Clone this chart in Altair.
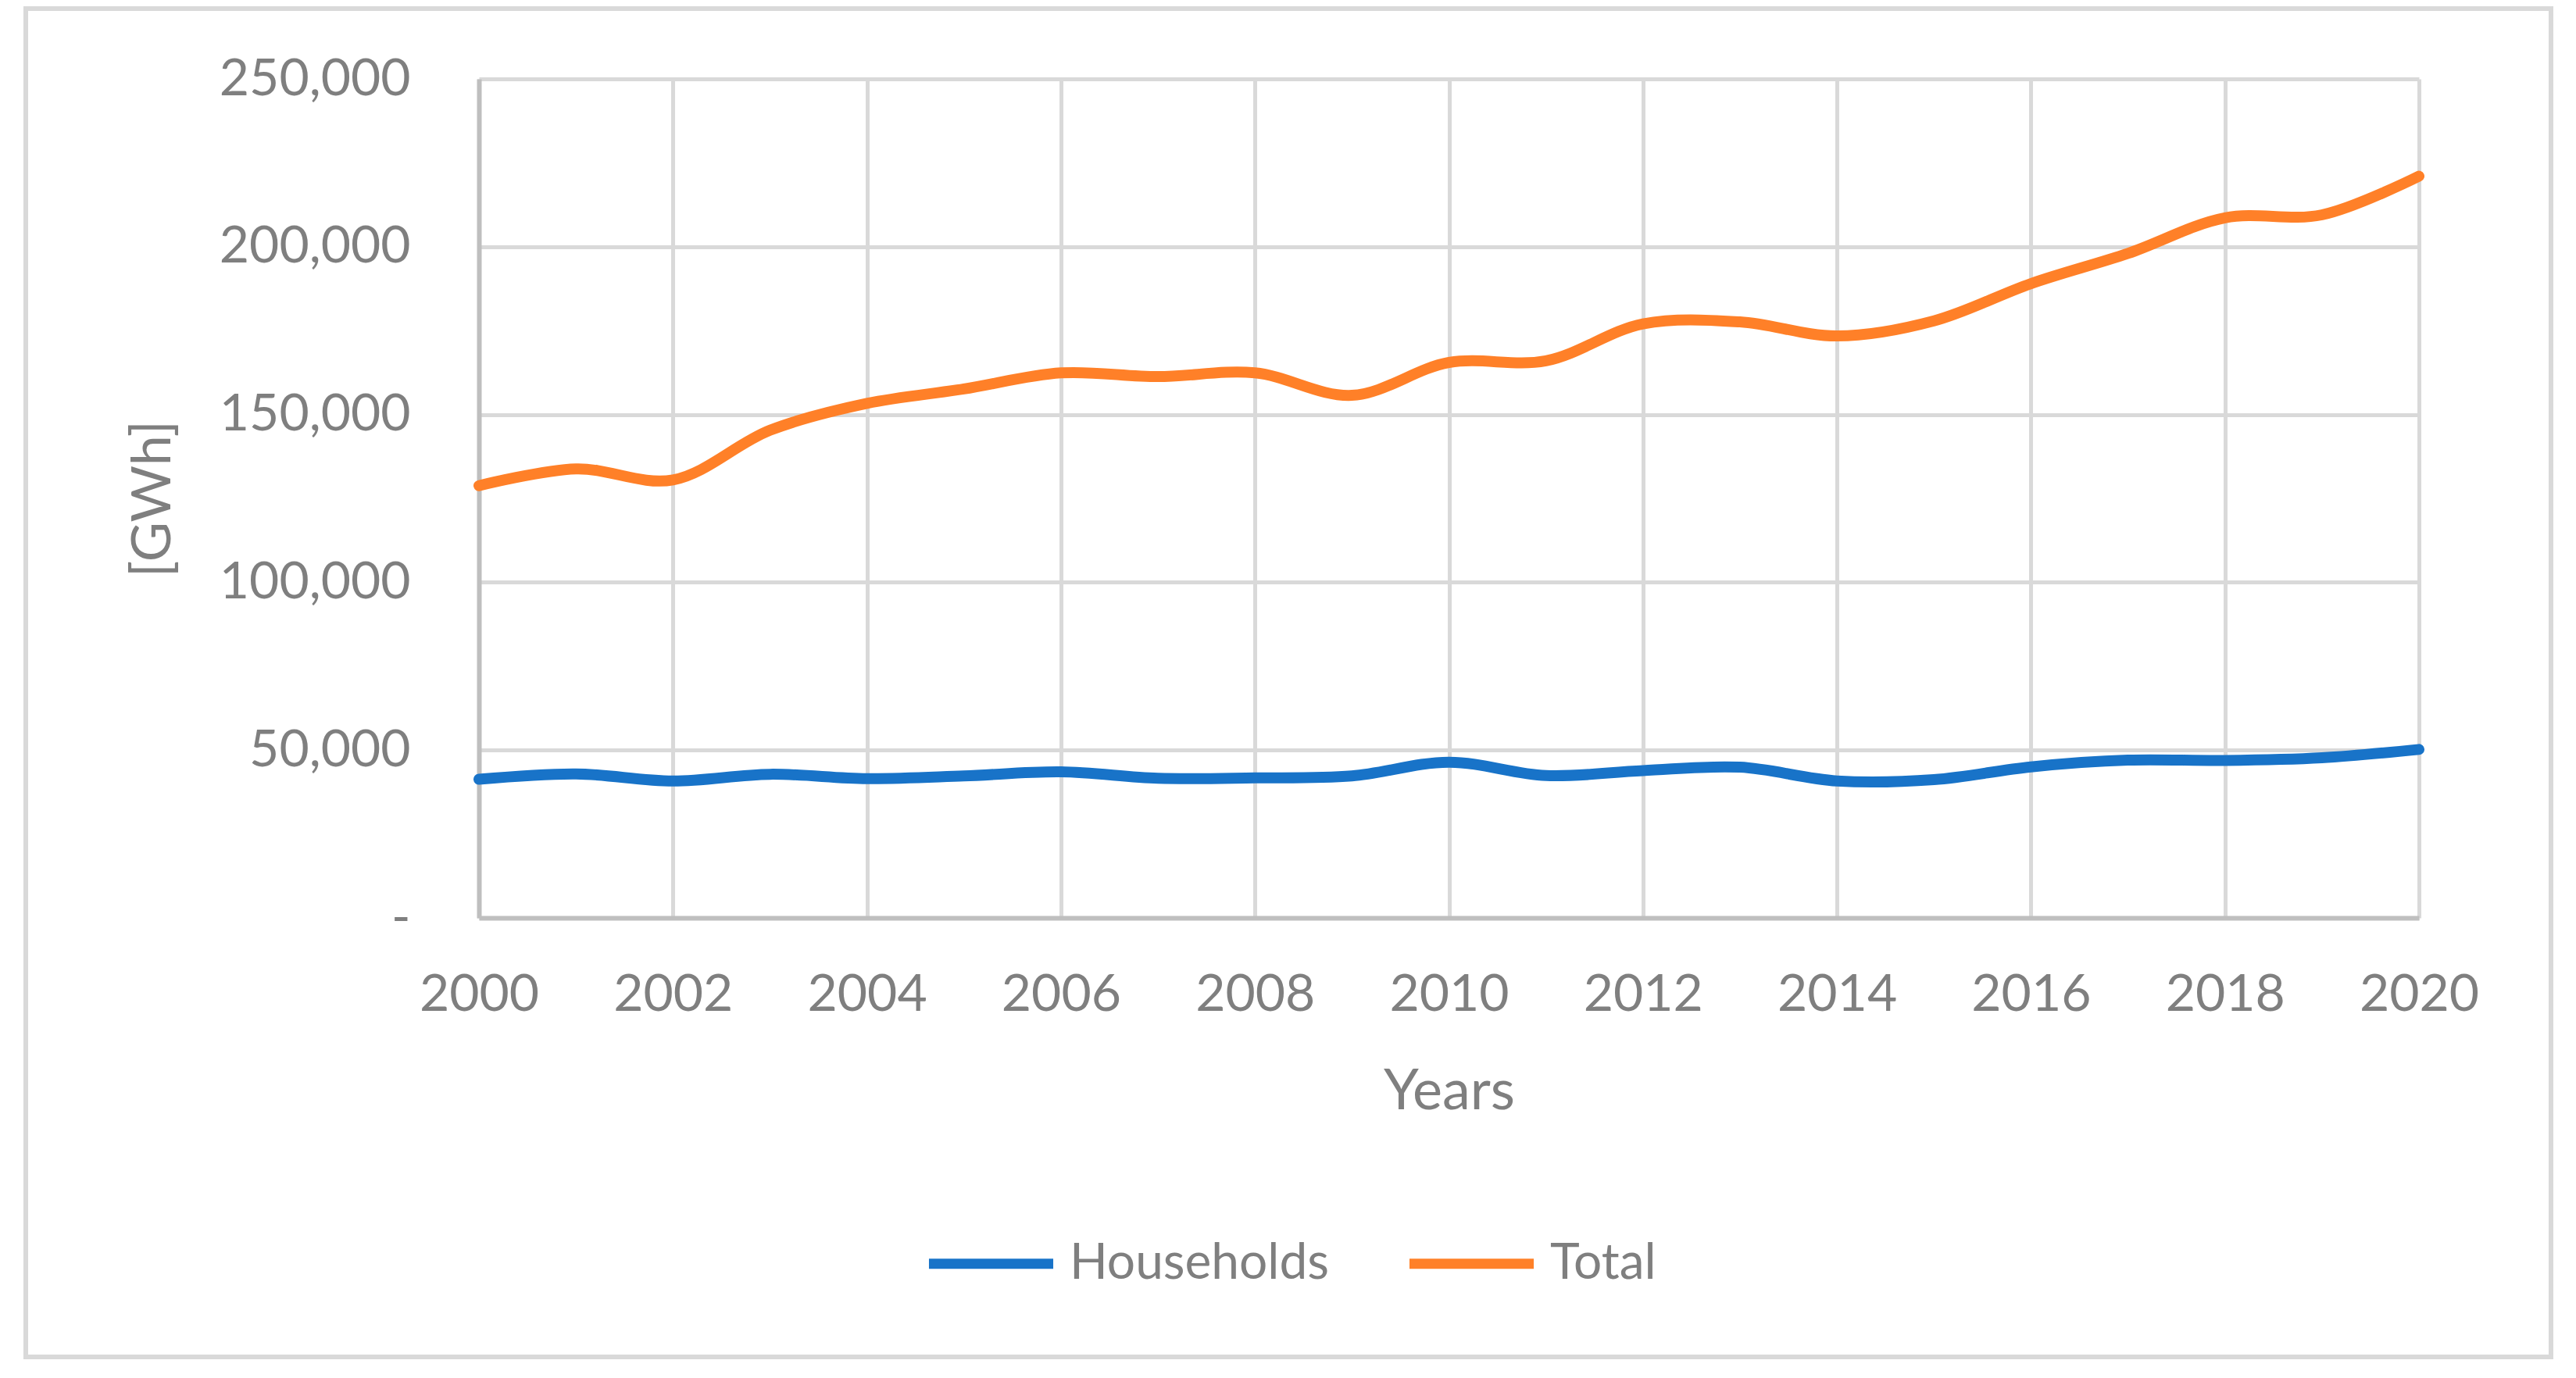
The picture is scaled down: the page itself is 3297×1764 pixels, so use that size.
import altair as alt
import pandas as pd

years = list(range(2000, 2021))
households = [41300, 42900, 40800, 42800, 41500, 42300, 43500, 41600, 41700, 42300,
              46400, 42400, 43900, 44900, 40800, 41200, 45000, 47000, 46900, 47700, 50200]
total = [128800, 133800, 130500, 145300, 153300, 157600, 162400, 161300, 162400, 155700,
         165500, 166000, 177000, 177600, 173400, 177900, 189000, 198000, 208600, 209500, 221000]
series_names = ["Households", "Total"]
series_colors = ["#1873C8", "#FF8028"]
x_ticks = list(range(2000, 2021, 2))
y_ticks = [0, 50000, 100000, 150000, 200000, 250000]

rows = []
for i, y in enumerate(years):
    rows.append({"Year": y, "Series": series_names[0], "Value": households[i]})
    rows.append({"Year": y, "Series": series_names[1], "Value": total[i]})
df = pd.DataFrame(rows)

FONT = "Lato"
GRAY = "#7F7F7F"

frame = alt.Chart(pd.DataFrame({"a": [0]})).mark_rect(
    fill="white", fillOpacity=0, stroke="#D9D9D9", strokeWidth=6
).encode(
    x=alt.value(-580), x2=alt.value(2652), y=alt.value(-90), y2=alt.value(1636)
)

lines = alt.Chart(df).mark_line(
    strokeWidth=14, interpolate="catmull-rom", strokeCap="round", strokeJoin="round"
).encode(
    x=alt.X("Year:Q",
            scale=alt.Scale(domain=[2000, 2020], nice=False, zero=False),
            axis=alt.Axis(values=x_ticks, format="d", title="Years",
                          labelPadding=66, labelFlush=False, labelOverlap=False,
                          labelLimit=0,
                          titleY=244, titleBaseline="alphabetic",
                          titleFontSize=72)),
    y=alt.Y("Value:Q",
            scale=alt.Scale(domain=[0, 250000], nice=False),
            axis=alt.Axis(values=y_ticks, title="[GWh]",
                          labelExpr="datum.value == 0 ? '-' : format(datum.value, ',')",
                          labelPadding=88, labelLimit=0, labelFlush=False,
                          labelOverlap=False,
                          titleAngle=-90, titleX=-417, titleY=537,
                          titleAlign="center", titleBaseline="middle",
                          titleFontSize=70)),
    color=alt.Color("Series:N",
                    scale=alt.Scale(domain=series_names, range=series_colors),
                    legend=alt.Legend(orient="none", direction="horizontal", title=None,
                                      legendX=569, legendY=1430,
                                      symbolType="stroke", symbolSize=25300,
                                      symbolStrokeWidth=13, labelOffset=14,
                                      columnPadding=75, labelFontSize=64,
                                      labelLimit=0,
                                      labelColor=GRAY, labelFont=FONT)),
)

chart = alt.layer(frame, lines).properties(
    width=2483, height=1074,
    autosize=alt.AutoSizeParams(type="none"),
    padding={"left": 605, "top": 93, "right": 180, "bottom": 570},
).configure_view(stroke=None).configure_axis(
    grid=True, gridColor="#D9D9D9", gridWidth=5,
    domainColor="#BFBFBF", domainWidth=6, ticks=False,
    labelFont=FONT, labelFontSize=66, labelColor=GRAY,
    titleFont=FONT, titleColor=GRAY, titleFontWeight="normal",
).configure_legend(
    symbolStrokeColor=None
)

chart.save("out.html", embed_options={"renderer": "svg", "actions": False})
